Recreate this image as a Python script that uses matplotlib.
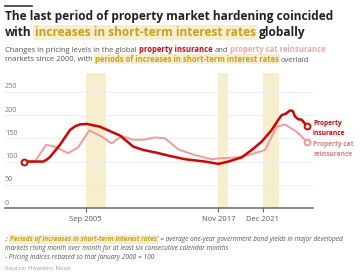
import matplotlib
matplotlib.use('Agg')
import matplotlib.pyplot as plt

plt.rcParams['font.family'] = ['Open Sans', 'DejaVu Sans']

# property insurance pricing index (Jan 2000 = 100)
years_ins = [2000.0, 2001.77, 2002.08, 2002.39, 2003.30, 2004.22, 2004.70, 2005.14,
             2005.75, 2006.97, 2008.81, 2010.03, 2010.94, 2012.17, 2013.39, 2014.77,
             2016.61, 2017.83, 2018.74, 2019.97, 2020.89, 2021.81, 2022.72, 2023.33,
             2023.64, 2024.01, 2024.40, 2024.65, 2024.86, 2025.17, 2025.48, 2025.62,
             2025.94]
vals_ins = [100, 100, 104, 110, 136, 168, 176, 180,
            181, 175, 156, 132, 125, 119, 112, 105,
            100, 95, 100, 109, 125, 143, 168, 190,
            200, 203, 210, 209, 197, 191, 190, 186,
            177]

# property cat reinsurance pricing index
years_cat = [2000.0, 2001.01, 2002.02, 2002.84, 2004.06, 2004.98, 2005.99, 2006.97,
             2008.05, 2008.96, 2010.03, 2010.94, 2012.02, 2012.94, 2014.16, 2015.69,
             2017.22, 2017.98, 2019.66, 2020.89, 2022.11, 2023.18, 2023.94, 2025.02,
             2025.94]
vals_cat = [100, 100, 136, 132, 118, 131, 167, 156,
            139, 155, 147, 147, 152, 150, 126, 114,
            105, 107, 109, 116, 125, 175, 180, 164,
            143]

# periods of rising short-term rates
band_start = [2005.67, 2017.83, 2021.92]
band_end = [2007.5, 2018.75, 2023.42]

tick_pos = [2005.67, 2017.83, 2021.92]
tick_lbl = ['Sep 2005', 'Nov 2017', 'Dec 2021']
y_ticks = [0, 50, 100, 150, 200, 250]

RED = '#d90000'
PINK = '#f09a9a'
PINK_TXT = '#e07c7c'
GOLD = '#c9a21c'
HILITE = '#f6eecd'
GREY = '#555555'
W, H = 360, 272

fig = plt.figure(figsize=(W / 100, H / 100), dpi=100)
ax = fig.add_axes([5 / W, 64 / H, 308 / W, 134.7 / H])

for s, e in zip(band_start, band_end):
    ax.axvspan(s, e, color=HILITE, lw=0, zorder=0)

for v in y_ticks[1:]:
    ax.axhline(v, color='#eeeeee', lw=0.8, zorder=1)
for v in y_ticks:
    ax.annotate(str(v), xy=(0, v), xycoords=('axes fraction', 'data'),
                xytext=(0, 1), textcoords='offset points',
                fontsize=5.2, color='#777777', va='bottom', ha='left')

ax.plot(years_cat, vals_cat, color=PINK, lw=1.4, zorder=3,
        solid_capstyle='round', solid_joinstyle='round')
ax.plot(years_ins, vals_ins, color=RED, lw=1.8, zorder=4,
        solid_capstyle='round', solid_joinstyle='round')
ax.plot(years_ins[0], vals_ins[0], 'o', ms=4.2, mfc='white', mec=RED, mew=1.4, zorder=5)
ax.plot(years_ins[-1], vals_ins[-1], 'o', ms=4.2, mfc='white', mec=RED, mew=1.4, zorder=5)
ax.plot(years_cat[-1], vals_cat[-1], 'o', ms=4.2, mfc='white', mec=PINK, mew=1.4, zorder=5)

ax.set_xlim(1998.26, 2026.51)
ax.set_ylim(0, 290)
ax.set_yticks([])
ax.set_xticks(tick_pos)
ax.set_xticklabels(tick_lbl)
ax.tick_params(axis='x', length=3, color='#666666', labelsize=5.5,
               labelcolor=GREY, pad=2.5, width=0.8)
for sp in ['top', 'right', 'left']:
    ax.spines[sp].set_visible(False)
ax.spines['bottom'].set_color('#666666')
ax.spines['bottom'].set_linewidth(1.1)
ax.set_facecolor('none')

# end labels
fig.text(313 / W, 1 - 128.5 / H, 'Property\ninsurance', color=RED, fontsize=4.8,
         fontweight='bold', va='center', ha='left', linespacing=1.45)
fig.text(313 / W, 1 - 149.4 / H, 'Property cat\nreinsurance', color=PINK_TXT, fontsize=4.8,
         fontweight='bold', va='center', ha='left', linespacing=1.45)

renderer = fig.canvas.get_renderer()


def rich_line(x_px, y_px, pieces, size):
    # pieces: (text, style dict, gap after)
    x = x_px
    sp = 0.26 * size * 100 / 72
    for txt, kw, gap in pieces:
        t = fig.text(x / W, 1 - y_px / H, txt, fontsize=size, va='baseline',
                     ha='left', **kw)
        bb = t.get_window_extent(renderer)
        x = bb.x1 + (sp if gap else 0)


hl = dict(boxstyle='square,pad=0.12', fc=HILITE, ec='none')
plain_t = dict(color='#222222', fontweight='bold')
gold_t = dict(color=GOLD, fontweight='bold', bbox=hl)

# top rule + title
fig.add_artist(plt.Line2D([5 / W, 32 / W], [1 - 6 / H, 1 - 6 / H], color='#333333', lw=1.2))
rich_line(5, 20, [('The last period of property market hardening coincided', plain_t, False)], 8.6)
rich_line(5, 36, [('with', plain_t, True),
                  ('increases in short-term interest rates', gold_t, True),
                  ('globally', plain_t, False)], 8.6)

sub = dict(color=GREY)
rich_line(5, 52.5, [('Changes in pricing levels in the global', sub, True),
                    ('property insurance', dict(color='#e00010', fontweight='bold'), True),
                    ('and', sub, True),
                    ('property cat reinsurance', dict(color='#f4a4a8', fontweight='bold'), False)], 5.5)
rich_line(5, 61.5, [('markets since 2000, with', sub, True),
                    ('periods of increases in short-term interest rates',
                     dict(color=GOLD, fontweight='bold', bbox=hl), True),
                    ('overlaid', sub, False)], 5.5)

it = dict(color=GREY, style='italic')
rich_line(5, 241, [("-'", it, True),
                   ('Periods of increases in short-term interest rates',
                    dict(color=GOLD, fontweight='bold', style='italic', bbox=hl), False),
                   ("' = average one-year government bond yields in major developed", it, False)], 4.7)
rich_line(5, 250, [('markets rising month over month for at least six consecutive calendar months', it, False)], 4.7)
rich_line(5, 259, [('- Pricing indices rebased so that January 2000 = 100', it, False)], 4.7)
rich_line(5, 269.5, [('Source: Howden; Nova', dict(color='#999999'), False)], 4.4)

fig.savefig('out.png', dpi=100)
